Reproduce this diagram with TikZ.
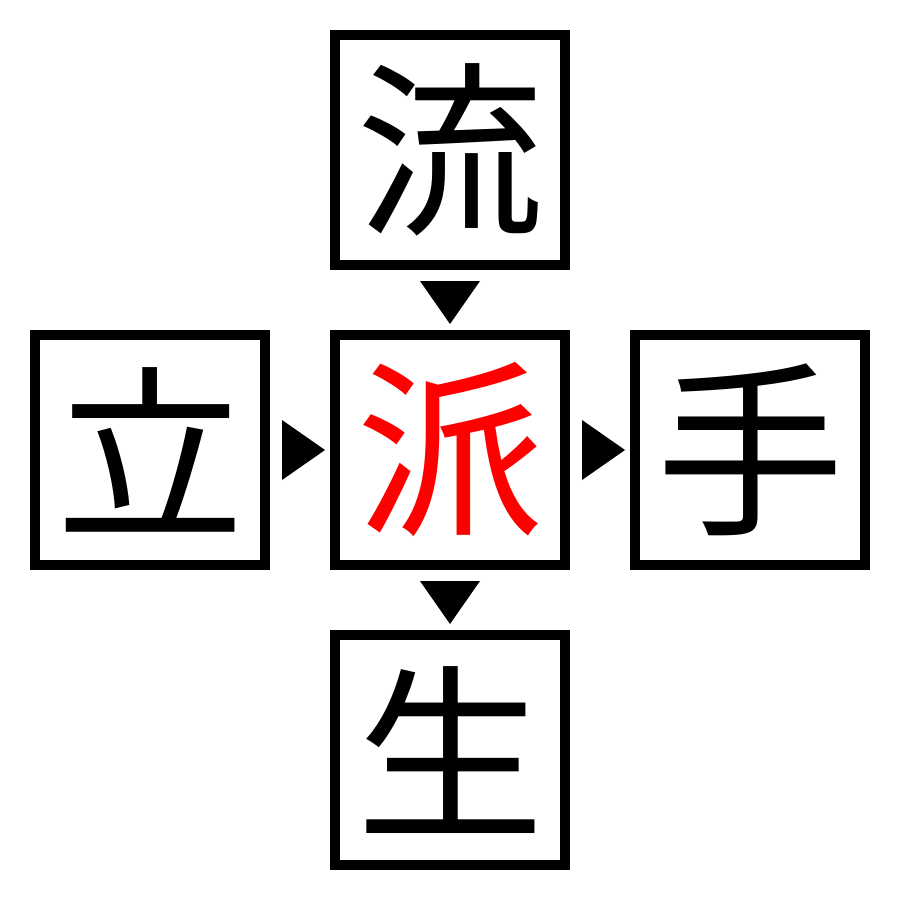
\documentclass[tikz,border=0pt]{standalone}
\usepackage{fontspec}
\newfontfamily\cjk{Noto Sans CJK JP}
\usetikzlibrary{calc}
\tikzset{
  kbox/.style={draw=black, line width=10pt, minimum size=230pt, inner sep=0pt, fill=white,
    font=\cjk\fontsize{188}{188}\selectfont},
  tri/.style={fill=black, draw=none}
}
\begin{document}
\begin{tikzpicture}[x=1pt,y=-1pt]
\useasboundingbox (0,0) rectangle (900,900);
\fill[white] (0,0) rectangle (900,900);
\node[kbox] (t) at (450,150) {流};
\node[kbox] (l) at (150,450) {立};
\node[kbox, text=red] (c) at (450,450) {派};
\node[kbox] (r) at (750,450) {手};
\node[kbox] (b) at (450,750) {生};
% down triangles
\fill[tri] ($(t.south)+(-30,11)$) -- ($(t.south)+(30,11)$) -- ($(c.north)+(0,-6)$) -- cycle;
\fill[tri] ($(c.south)+(-30,11)$) -- ($(c.south)+(30,11)$) -- ($(b.north)+(0,-6)$) -- cycle;
% right triangles
\fill[tri] ($(l.east)+(12,-30)$) -- ($(l.east)+(12,30)$) -- ($(c.west)+(-5,0)$) -- cycle;
\fill[tri] ($(c.east)+(12,-30)$) -- ($(c.east)+(12,30)$) -- ($(r.west)+(-5,0)$) -- cycle;
\end{tikzpicture}
\end{document}
